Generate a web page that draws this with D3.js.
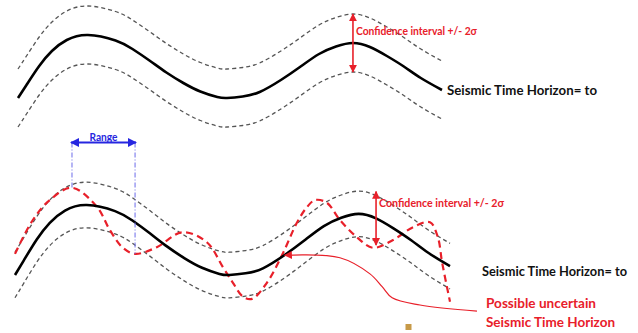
<!DOCTYPE html>
<html>
<head>
<meta charset="utf-8">
<script src="https://cdn.jsdelivr.net/npm/d3@7"></script>
<style>
  body { margin: 0; background: #fff; }
  text { font-family: Lato, "Noto Sans", "DejaVu Sans", sans-serif; font-weight: bold; }
</style>
</head>
<body>
<svg id="chart" width="638" height="333"></svg>
<script>
// Interpreted seismic horizon: trace number vs two-way time (ms)
const traces      = [0, 2, 5, 8, 11.5, 16.5, 23, 27, 31, 35, 39, 43, 47, 49.3, 53, 57, 62, 66.5, 71, 75, 79, 83, 87, 91, 95, 100];
const horizonTime = [1626, 1600, 1562, 1532, 1510, 1500, 1511, 1528, 1551, 1575, 1596, 1613, 1624, 1626, 1623, 1614, 1590, 1564, 1538, 1523, 1516, 1524, 1542, 1563, 1586, 1610];

// Half-width of the +/- 2 sigma confidence band (ms): top panel, bottom panel
const twoSigma = [58, 41];

// One possible realisation of the uncertain horizon (bottom panel)
const altTraces = [0, 4.1, 8, 13.1, 18.9, 21.8, 24.8, 27.6, 32.6, 38.5, 44.1, 47.8, 50.1, 52.4, 54.5, 57.9, 61.4, 64.8, 67.1, 69, 71.7, 74.7, 78.6, 82.3, 86.9, 91.5, 95.4, 97.2, 98.2, 100];
const altTime   = [1588, 1527, 1491, 1469, 1504, 1545, 1577, 1588, 1576, 1549, 1567, 1612, 1640, 1665, 1669, 1640, 1590, 1532, 1504, 1491, 1496, 1527, 1558, 1577, 1563, 1540, 1531, 1558, 1604, 1674];

// Range shown between an alt-horizon crest and trough (trace numbers)
const rangeTraces = [13.1, 27.6];
// Traces where the confidence interval is marked: top, bottom
const ciTraces = [79, 83];
// Trace where the uncertain horizon crosses the interpreted one
const crossTrace = 61.4;

const labels = {
  horizon: "Seismic Time Horizon= to",
  ci: "Confidence interval +/- 2\u03C3",
  range: "Range",
  alt: ["Possible uncertain", "Seismic Time Horizon"]
};

const RED = "#e8202a", BLUE = "#2626e0", BLUE_LIGHT = "#6b6bea", GREY = "#555";

const svg = d3.select("#chart");
const defs = svg.append("defs");
function marker(id, color, size) {
  defs.append("marker")
    .attr("id", id).attr("viewBox", "0 -5 10 10")
    .attr("refX", 9).attr("refY", 0)
    .attr("markerWidth", size).attr("markerHeight", size)
    .attr("markerUnits", "userSpaceOnUse")
    .attr("orient", "auto-start-reverse")
    .append("path").attr("d", "M0,-5L10,0L0,5Z").attr("fill", color);
}
marker("arrRed", RED, 8);
marker("arrBlue", BLUE, 9);
marker("arrRedThin", RED, 8);

const horizon = traces.map((tr, i) => ({ tr, t: horizonTime[i] }));
const alt = altTraces.map((tr, i) => ({ tr, t: altTime[i] }));
const interp = d3.scaleLinear().domain(traces).range(horizonTime);

// Two panels, each with its own trace/time scales
const panels = [
  { x: d3.scaleLinear().domain([0, 100]).range([18, 442]),
    y: d3.scaleLinear().domain([1500, 1626]).range([35, 98]),
    sig: twoSigma[0] },
  { x: d3.scaleLinear().domain([0, 100]).range([15, 450]),
    y: d3.scaleLinear().domain([1500, 1626]).range([205, 275]),
    sig: twoSigma[1] }
];

panels.forEach((p, k) => {
  const g = svg.append("g");
  const line = off => d3.line()
    .x(d => p.x(d.tr)).y(d => p.y(d.t + off))
    .curve(d3.curveNatural);

  // confidence band edges
  [-p.sig, p.sig].forEach(off => {
    g.append("path").datum(horizon)
      .attr("d", line(off))
      .attr("fill", "none").attr("stroke", GREY)
      .attr("stroke-width", 1.3).attr("stroke-dasharray", "4,3");
  });

  if (k === 1) {
    // possible uncertain horizon
    g.append("path").datum(alt)
      .attr("d", d3.line().x(d => p.x(d.tr)).y(d => p.y(d.t)).curve(d3.curveCatmullRom.alpha(0.5)))
      .attr("fill", "none").attr("stroke", RED)
      .attr("stroke-width", 2.2).attr("stroke-dasharray", "7,4.5");
  }

  // interpreted horizon
  g.append("path").datum(horizon)
    .attr("d", line(0))
    .attr("fill", "none").attr("stroke", "#000").attr("stroke-width", 2.6);

  // confidence interval arrow
  const ct = ciTraces[k];
  const cx = p.x(ct), ctime = interp(ct);
  const ext = k === 1 ? 4 : 0;
  g.append("line")
    .attr("x1", cx).attr("x2", cx)
    .attr("y1", p.y(ctime + p.sig) + ext).attr("y2", p.y(ctime - p.sig) - ext)
    .attr("stroke", RED).attr("stroke-width", 1.6)
    .attr("marker-start", "url(#arrRed)").attr("marker-end", "url(#arrRed)");
  g.append("text")
    .attr("x", cx + 3).attr("y", k === 0 ? 35 : 207)
    .attr("fill", RED).attr("font-size", 11.5)
    .attr("textLength", k === 0 ? 121 : 125).attr("lengthAdjust", "spacingAndGlyphs")
    .text(labels.ci);

  // horizon label (bottom one is right-aligned to stay inside the frame)
  const endX = p.x(100), endY = p.y(horizonTime[horizonTime.length - 1]);
  g.append("text")
    .attr("x", k === 0 ? endX + 5 : 627)
    .attr("y", k === 0 ? endY + 5 : endY + 9.5)
    .attr("text-anchor", k === 0 ? "start" : "end")
    .attr("fill", "#111").attr("font-size", k === 0 ? 14 : 13.5)
    .attr("textLength", k === 0 ? 150 : 145).attr("lengthAdjust", "spacingAndGlyphs")
    .text(labels.horizon);

  if (k === 1) {
    // range markers
    const altAt = d3.scaleLinear().domain(altTraces).range(altTime);
    const arrowY = 142.5;
    rangeTraces.forEach(tr => {
      g.append("line")
        .attr("x1", p.x(tr)).attr("x2", p.x(tr))
        .attr("y1", arrowY).attr("y2", p.y(altAt(tr)))
        .attr("stroke", BLUE_LIGHT).attr("stroke-width", 1)
        .attr("stroke-dasharray", "5,2,1,2");
    });
    g.append("line")
      .attr("x1", p.x(rangeTraces[0]) - 1).attr("x2", p.x(rangeTraces[1]) + 1)
      .attr("y1", arrowY).attr("y2", arrowY)
      .attr("stroke", BLUE).attr("stroke-width", 2)
      .attr("marker-start", "url(#arrBlue)").attr("marker-end", "url(#arrBlue)");
    g.append("text")
      .attr("x", (p.x(rangeTraces[0]) + p.x(rangeTraces[1])) / 2).attr("y", 140.5)
      .attr("text-anchor", "middle")
      .attr("fill", BLUE).attr("font-size", 11)
      .attr("textLength", 28).attr("lengthAdjust", "spacingAndGlyphs")
      .text(labels.range);

    // callout from label to the crossing point
    const crossT = altAt(crossTrace);
    const waypoints = [[106.2, 1691], [93.1, 1680], [86.7, 1667], [84.4, 1647], [81.6, 1624], [74.7, 1595], [crossTrace + 0.6, crossT + 0.5]];
    g.append("path")
      .datum(waypoints)
      .attr("d", d3.line().x(d => p.x(d[0])).y(d => p.y(d[1])).curve(d3.curveCatmullRom.alpha(0.5)))
      .attr("fill", "none").attr("stroke", RED).attr("stroke-width", 1.2)
      .attr("marker-end", "url(#arrRedThin)");

    labels.alt.forEach((s, i) => {
      g.append("text")
        .attr("x", 486).attr("y", 308 + i * 19)
        .attr("fill", RED).attr("font-size", 14)
        .attr("textLength", i === 0 ? 110 : 129).attr("lengthAdjust", "spacingAndGlyphs")
        .text(s);
    });
  }
});

// small stray marker near the foot of the figure
svg.append("rect").attr("x", 405.5).attr("y", 324).attr("width", 6).attr("height", 6).attr("fill", "#c79a48");
</script>
</body>
</html>
